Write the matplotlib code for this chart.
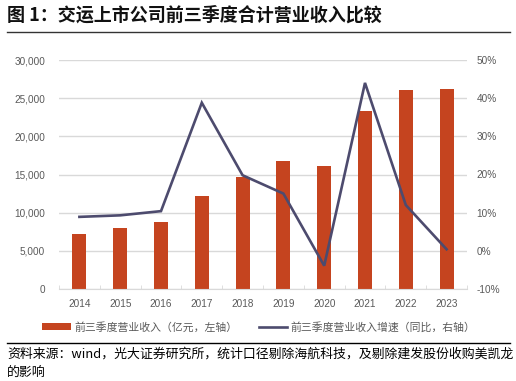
import matplotlib
matplotlib.use("Agg")
import matplotlib.pyplot as plt
from matplotlib.lines import Line2D
from matplotlib.patches import Patch
from matplotlib.ticker import FuncFormatter, FixedLocator

plt.rcParams['font.family'] = ['Noto Sans CJK SC', 'DejaVu Sans']

years = ['2014', '2015', '2016', '2017', '2018', '2019', '2020', '2021', '2022', '2023']
revenue = [7250, 7950, 8780, 12190, 14640, 16820, 16160, 23290, 26080, 26210]
growth = [0.089, 0.093, 0.104, 0.388, 0.198, 0.150, -0.039, 0.440, 0.120, 0.004]

title = '图 1：交运上市公司前三季度合计营业收入比较'
legend_labels = ['前三季度营业收入（亿元，左轴）', '前三季度营业收入增速（同比，右轴）']
source1 = '资料来源：wind，光大证券研究所，统计口径剔除海航科技，及剔除建发股份收购美凯龙'
source2 = '的影响'

W, H = 516, 381
fig = plt.figure(figsize=(W / 100, H / 100), dpi=100)

bar_color = '#C5441F'
line_color = '#4D4B6E'
grid_color = '#D9D9D9'
tick_color = '#595959'
tick_font = ['Liberation Sans', 'DejaVu Sans']

ax = fig.add_axes([59 / W, (H - 289) / H, (467 - 59) / W, (289 - 60) / H])
x = list(range(len(years)))
ax.bar(x, revenue, width=0.34, color=bar_color, zorder=2)
ax.set_xlim(-0.5, len(years) - 0.5)
ax.set_ylim(0, 30000)
ax.set_yticks(range(0, 30001, 5000))
ax.yaxis.set_major_formatter(FuncFormatter(lambda v, p: f'{int(v):,}'))
ax.grid(axis='y', color=grid_color, lw=1, zorder=0)
ax.set_axisbelow(True)
for s in ['top', 'right', 'left']:
    ax.spines[s].set_visible(False)
ax.spines['bottom'].set_color(grid_color)
ax.set_xticks(x)
ax.set_xticklabels(years)
ax.xaxis.set_minor_locator(FixedLocator([i - 0.5 for i in range(len(years) + 1)]))
ax.tick_params(axis='x', which='major', length=0, pad=7)
ax.tick_params(axis='x', which='minor', length=3, direction='in', color=grid_color)
ax.tick_params(axis='y', length=0, pad=10)
for lab in ax.get_xticklabels() + ax.get_yticklabels():
    lab.set_fontfamily(tick_font)
    lab.set_fontsize(7.2)
    lab.set_color(tick_color)

ax2 = ax.twinx()
ax2.plot(x, growth, color=line_color, lw=1.9, zorder=3, solid_joinstyle='miter')
ax2.set_ylim(-0.1, 0.5)
ax2.set_yticks([-0.1, 0, 0.1, 0.2, 0.3, 0.4, 0.5])
ax2.yaxis.set_major_formatter(FuncFormatter(lambda v, p: f'{round(v * 100):d}%'))
for s in ax2.spines.values():
    s.set_visible(False)
ax2.tick_params(axis='y', length=0, pad=7)
for lab in ax2.get_yticklabels():
    lab.set_fontfamily(tick_font)
    lab.set_fontsize(7.2)
    lab.set_color(tick_color)

handles = [Patch(facecolor=bar_color, edgecolor='none'),
           Line2D([0], [0], color=line_color, lw=1.9)]
leg = fig.legend(handles, legend_labels, ncol=2, loc='center',
                 bbox_to_anchor=(259 / W, (H - 327) / H), frameon=False,
                 fontsize=7.8, handlelength=2.6, handleheight=0.6,
                 columnspacing=1.95, handletextpad=0.35, labelcolor=tick_color)

fig.text(7 / W, 1 - 15 / H, title, fontsize=13, fontweight='bold',
         va='center', ha='left', color='#111111')
fig.add_artist(Line2D([7 / W, 510 / W], [1 - 32 / H, 1 - 32 / H],
                      color='#333333', lw=1, transform=fig.transFigure))
fig.add_artist(Line2D([7 / W, 510 / W], [1 - 343 / H, 1 - 343 / H],
                      color='#000000', lw=1, transform=fig.transFigure))
fig.text(7 / W, 1 - 354 / H, source1, fontsize=9.3, va='center', ha='left', color='#000000')
fig.text(7 / W, 1 - 372 / H, source2, fontsize=9.3, va='center', ha='left', color='#000000')

fig.savefig('out.png', dpi=100)
